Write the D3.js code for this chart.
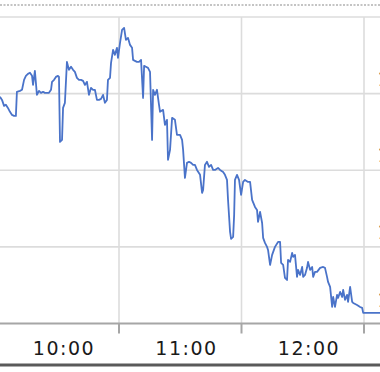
<!DOCTYPE html>
<html>
<head>
<meta charset="utf-8">
<script src="https://cdn.jsdelivr.net/npm/d3@7"></script>
<style>
  html, body { margin: 0; padding: 0; background: #fff; }
  svg { display: block; }
  text { font-family: Verdana, 'DejaVu Sans', sans-serif; }
</style>
</head>
<body>
<div id="chart"></div>
<script>
// minutes after 09:00
var minutes = [1.7, 2.7, 3.7, 4.6, 5.6, 6.6, 7.6, 8.6, 9.5, 10.0, 11.5, 12.5, 13.5, 14.4, 15.4, 16.4, 17.4, 17.9, 18.8, 19.8,
  20.8, 21.8, 22.8, 23.7, 24.7, 25.7, 26.7, 27.2, 28.2, 29.1, 30.1, 30.6, 31.1, 32.1, 32.6, 33.5, 34.5, 35.5, 36.5, 37.5,
  38.4, 39.4, 40.4, 41.4, 42.4, 43.3, 44.3, 45.3, 46.3, 47.3, 48.2, 49.2, 50.2, 51.2, 52.2, 53.1, 54.1, 54.6, 55.6, 56.1,
  57.1, 58.0, 59.0, 59.5, 60.5, 61.5, 62.5, 63.4, 64.4, 65.4, 66.4, 66.9, 67.8, 68.8, 69.8, 70.8, 71.8, 72.3, 73.2, 74.2,
  75.2, 76.2, 76.7, 77.6, 78.6, 79.6, 80.1, 81.6, 82.5, 83.5, 84.0, 85.0, 86.0, 87.4, 88.4, 89.9, 90.9, 91.4, 92.3, 93.3,
  94.3, 95.3, 96.3, 97.2, 98.2, 99.7, 100.7, 101.2, 102.1, 103.1, 104.1, 105.1, 106.1, 107.0, 108.5, 109.5, 111.0, 111.9, 112.9, 113.4,
  114.4, 114.9, 115.9, 116.4, 116.8, 117.8, 118.8, 119.8, 120.8, 121.7, 123.2, 124.2, 125.2, 126.6, 127.6, 128.1, 129.1, 130.1, 130.6, 131.5,
  132.5, 133.0, 134.0, 135.0, 136.4, 137.9, 138.9, 139.4, 140.4, 141.3, 142.3, 142.8, 143.8, 144.8, 145.3, 146.2, 147.2, 147.7, 148.7, 149.7,
  150.2, 151.1, 152.1, 152.6, 153.6, 154.6, 155.1, 156.0, 157.0, 158.5, 160.0, 160.9, 161.9, 162.4, 163.4, 164.4, 164.9, 165.8, 166.8, 167.3,
  168.3, 169.3, 169.8, 170.7, 171.7, 172.2, 173.2, 174.2, 174.7, 176.6, 178.1, 179.1, 179.6, 187.9]
var prices = [114.79, 114.59, 114.20, 114.27, 114.07, 113.81, 113.61, 113.55, 113.55, 115.12, 115.18, 115.25, 115.90, 116.16, 116.29, 116.36, 116.16, 115.57, 116.49, 114.92,
  115.18, 115.05, 115.12, 115.05, 115.05, 115.05, 115.25, 115.77, 115.90, 116.09, 116.16, 116.09, 111.85, 111.98, 114.07, 114.40, 117.07, 116.55, 116.75, 116.55,
  116.42, 116.03, 115.90, 115.90, 115.83, 115.57, 115.77, 114.92, 115.38, 115.25, 115.25, 114.59, 114.59, 114.66, 114.92, 114.40, 114.59, 115.90, 116.03, 117.01,
  117.86, 117.53, 117.99, 117.33, 118.31, 119.16, 119.29, 118.51, 118.64, 118.18, 117.99, 117.20, 117.14, 117.07, 117.07, 117.20, 114.72, 116.81, 116.75, 116.68,
  116.42, 111.98, 115.25, 114.92, 115.25, 114.27, 113.81, 113.94, 112.96, 113.29, 110.68, 111.33, 113.42, 113.29, 112.31, 112.31, 111.98, 111.33, 109.50, 110.48,
  110.55, 110.48, 110.35, 110.35, 110.02, 109.70, 108.52, 108.72, 110.35, 110.55, 110.22, 110.35, 110.02, 110.02, 110.15, 110.02, 109.89, 109.70, 109.37, 108.07,
  105.98, 105.52, 105.65, 107.09, 109.37, 109.70, 109.37, 108.39, 109.24, 109.37, 109.24, 109.24, 108.07, 107.61, 107.41, 106.63, 107.28, 106.56, 105.59, 105.26,
  105.00, 104.80, 103.82, 104.48, 105.00, 105.32, 105.32, 103.95, 103.82, 102.98, 102.84, 104.15, 104.02, 104.61, 104.35, 104.48, 103.04, 103.50, 103.17, 103.69,
  103.04, 103.17, 103.63, 104.02, 103.50, 103.69, 103.04, 103.37, 103.37, 103.63, 103.69, 103.63, 103.04, 102.71, 102.39, 101.08, 101.73, 101.08, 101.87, 101.67,
  102.06, 101.73, 102.19, 101.54, 101.87, 101.41, 102.39, 101.41, 101.34, 101.21, 101.08, 101.02, 100.69, 100.69]

var hourTicks = [10, 11, 12]
var hourLabels = ['10:00', '11:00', '12:00']
var priceTicks = [100, 105, 110, 115, 120]
var priceLabels = ['100', '105', '110', '115']

var w = 380
var h = 372

function at (m) { return new Date(2020, 0, 2, 9, 0, m * 60) }

var data = minutes.map(function (m, i) { return { t: at(m), v: prices[i] } })

var x = d3.scaleTime()
  .domain([at(60), at(180)])
  .range([119, 364])
var y = d3.scaleLinear().domain([100, 120]).range([323.5, 17])

var svg = d3.select('#chart').append('svg')
  .attr('width', w)
  .attr('height', h)

// dotted line on top
svg.append('line')
  .attr('x1', 0).attr('x2', w).attr('y1', 5).attr('y2', 5)
  .attr('stroke', '#c4c4c4')
  .attr('stroke-width', 2)
  .attr('stroke-dasharray', '2,1.5')

// horizontal grid
svg.append('g').selectAll('line')
  .data(priceTicks.filter(function (v) { return v !== 100 }))
  .enter().append('line')
  .attr('x1', 0).attr('x2', w)
  .attr('y1', function (d) { return y(d) }).attr('y2', function (d) { return y(d) })
  .attr('stroke', '#dcdcdc')
  .attr('stroke-width', 1.6)

// vertical grid
var tickTimes = hourTicks.map(function (hh) { return at((hh - 9) * 60) })
svg.append('g').selectAll('line')
  .data(tickTimes)
  .enter().append('line')
  .attr('x1', function (d) { return x(d) }).attr('x2', function (d) { return x(d) })
  .attr('y1', y(120)).attr('y2', y(100))
  .attr('stroke', '#dcdcdc')
  .attr('stroke-width', 1.6)

// price line
var line = d3.line()
  .x(function (d) { return x(d.t) })
  .y(function (d) { return y(d.v) })

svg.append('path')
  .datum(data)
  .attr('d', line)
  .attr('fill', 'none')
  .attr('stroke', '#4a73c9')
  .attr('stroke-width', 1.8)
  .attr('stroke-linejoin', 'round')

// x axis
svg.append('line')
  .attr('x1', 0).attr('x2', w)
  .attr('y1', y(100)).attr('y2', y(100))
  .attr('stroke', '#a6a6a6')
  .attr('stroke-width', 2)

svg.append('g').selectAll('line')
  .data(tickTimes)
  .enter().append('line')
  .attr('x1', function (d) { return x(d) }).attr('x2', function (d) { return x(d) })
  .attr('y1', y(100)).attr('y2', y(100) + 10)
  .attr('stroke', '#a6a6a6')
  .attr('stroke-width', 2)

svg.append('g').selectAll('text')
  .data(tickTimes)
  .enter().append('text')
  .text(function (d, i) { return hourLabels[i] })
  .attr('x', function (d) { return x(d) - 55 })
  .attr('y', 355)
  .attr('text-anchor', 'middle')
  .style('font-size', '19px')
  .style('letter-spacing', '1.5px')
  .attr('fill', '#1a1a1a')

// right-side price labels, cut off by the frame as in the source
svg.append('g').selectAll('text')
  .data(priceLabels)
  .enter().append('text')
  .text(function (d) { return d })
  .attr('x', 377.5)
  .attr('y', function (d) { return +d === 100 ? y(+d) - 17 : y(+d) - 8 })
  .style('font-size', '19px')
  .attr('fill', '#1a1a1a')

// bottom frame line
svg.append('line')
  .attr('x1', 0).attr('x2', w).attr('y1', 365).attr('y2', 365)
  .attr('stroke', '#5a5a5a')
  .attr('stroke-width', 3)
</script>
</body>
</html>
